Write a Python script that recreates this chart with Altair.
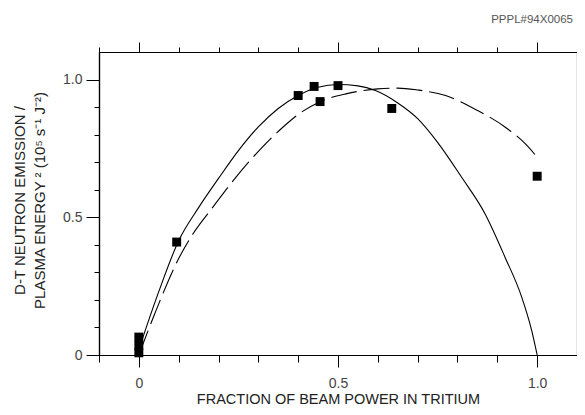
import altair as alt
import pandas as pd

# measured squares
pt_x = [0.0, 0.0, 0.0, 0.095, 0.40, 0.44, 0.455, 0.50, 0.635, 1.0]
pt_y = [0.065, 0.035, 0.008, 0.41, 0.942, 0.975, 0.92, 0.978, 0.895, 0.649]

# solid curve
solid_x = [0.0, 0.05, 0.1, 0.15, 0.2, 0.25, 0.3, 0.35, 0.40, 0.45, 0.5, 0.55, 0.594,
           0.65, 0.70, 0.75, 0.81, 0.869, 0.919, 0.961, 0.986, 1.0]
solid_y = [0.02, 0.23, 0.415, 0.535, 0.641, 0.742, 0.828, 0.895, 0.942, 0.972, 0.982, 0.977, 0.96,
           0.915, 0.858, 0.772, 0.646, 0.513, 0.356, 0.211, 0.09, 0.0]

# dashed curve
dash_x = [0.0, 0.04, 0.1, 0.136, 0.186, 0.244, 0.3025, 0.3525, 0.4025, 0.4525, 0.52, 0.60,
          0.65, 0.70, 0.77, 0.85, 0.92, 0.97, 1.0]
dash_y = [0.0, 0.15, 0.35, 0.44, 0.537, 0.646, 0.743, 0.815, 0.876, 0.918, 0.948, 0.966,
          0.969, 0.962, 0.942, 0.888, 0.827, 0.767, 0.718]

x_minor = [-0.1, 0.0, 0.1, 0.2, 0.3, 0.4, 0.5, 0.6, 0.7, 0.8, 0.9, 1.0, 1.1]
x_major = [0.0, 0.5, 1.0]
y_minor = [0.0, 0.1, 0.2, 0.3, 0.4, 0.5, 0.6, 0.7, 0.8, 0.9, 1.0]
y_major = [0.0, 0.5, 1.0]

x_title = "FRACTION OF BEAM POWER IN TRITIUM"
y_title = ["D-T NEUTRON EMISSION /", "PLASMA ENERGY ² (10⁵ s⁻¹ J⁻²)"]
corner_label = "PPPL#94X0065"

pts = pd.DataFrame({"x": pt_x, "y": pt_y})
solid = pd.DataFrame({"x": solid_x, "y": solid_y})
dashed = pd.DataFrame({"x": dash_x, "y": dash_y})

xs = alt.Scale(domain=[-0.1, 1.1], nice=False, zero=False)
ys = alt.Scale(domain=[0, 1.1], nice=False, zero=False)
FONT = "Liberation Sans"
lab = "datum.value == 0 ? '0' : format(datum.value, '.1f')"

squares = alt.Chart(pts).mark_square(size=80, color="black", opacity=1).encode(
    x=alt.X("x:Q", scale=xs, axis=alt.Axis(
        orient="bottom", values=x_major, tickSize=12, labelExpr=lab, labelPadding=9,
        title=x_title, titleFontSize=14.5, titleY=37, titleBaseline="top",
        titleFontWeight="normal")),
    y=alt.Y("y:Q", scale=ys, axis=alt.Axis(
        orient="left", values=y_major, tickSize=13, labelExpr=lab, labelPadding=4,
        title=y_title, titleFontSize=15, titleAngle=270, titleX=-87, titleY=148,
        titleAlign="center", titleBaseline="top", titleLineHeight=20,
        titleFontWeight="normal")),
)

solid_line = alt.Chart(solid).mark_line(color="black", strokeWidth=1.1, interpolate="monotone").encode(
    x=alt.X("x:Q", scale=xs, axis=alt.Axis(orient="bottom", values=x_minor, tickSize=7,
                                           labels=False, title=None)),
    y=alt.Y("y:Q", scale=ys, axis=alt.Axis(orient="left", values=y_minor, tickSize=5,
                                           labels=False, title=None)),
)

dashed_line = alt.Chart(dashed).mark_line(color="black", strokeWidth=1.1, strokeDash=[26, 7],
                                          interpolate="monotone").encode(
    x=alt.X("x:Q", scale=xs, axis=alt.Axis(orient="top", values=x_minor, tickSize=5,
                                           labels=False, title=None)),
    y=alt.Y("y:Q", scale=ys, axis=alt.Axis(orient="right", values=y_minor, tickSize=6,
                                           labels=False, title=None)),
)

ghost = alt.Chart(pts).mark_point(opacity=0).encode(
    x=alt.X("x:Q", scale=xs, axis=alt.Axis(orient="top", values=x_major, tickSize=10,
                                           labels=False, domain=False, title=None)),
    y=alt.Y("y:Q", scale=ys, axis=None),
)

chart = alt.layer(solid_line, dashed_line, squares, ghost).resolve_axis(
    x="independent", y="independent"
).properties(
    width=478, height=303,
    autosize=alt.AutoSizeParams(type="none"),
    padding={"left": 91, "top": 44, "right": 0, "bottom": 52},
    title=alt.TitleParams(corner_label, anchor="end", frame="group", fontSize=11.5,
                          fontWeight="normal", color="#555", font=FONT, offset=16, dx=-4),
).configure_view(stroke=None).configure_axis(
    grid=False, domainColor="black", domainWidth=1.2, tickColor="black", tickWidth=1,
    labelFont=FONT, labelFontSize=14, labelColor="#444", titleFont=FONT, titleColor="#222",
)

chart.save("out.html", embed_options={"renderer": "svg", "actions": False})
